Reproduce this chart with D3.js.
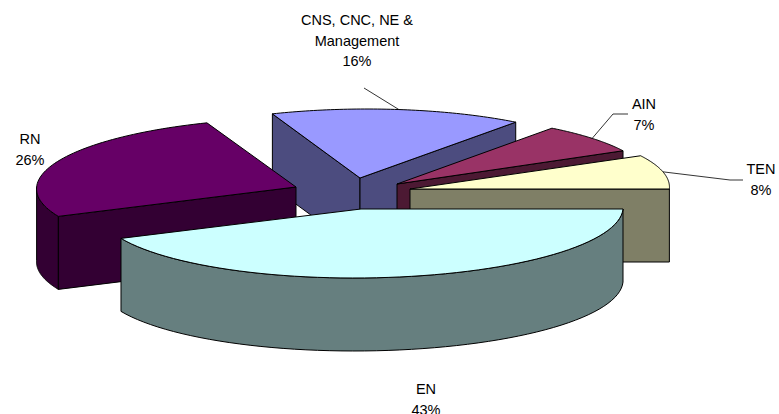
<!DOCTYPE html>
<html>
<head>
<meta charset="utf-8">
<script src="https://cdn.jsdelivr.net/npm/d3@7"></script>
<style>
  body { margin: 0; background: #fff; }
  text { font-family: "Liberation Sans", Arial, sans-serif; font-size: 14.5px; fill: #000; text-anchor: middle; }
</style>
</head>
<body>
<svg id="chart"></svg>
<script>
// data, clockwise from 3 o'clock
const categories = ["EN", "RN", "CNS, CNC, NE & Management", "AIN", "TEN"];
const shares = [43, 26, 16, 7, 8];

const topColors = ["#CCFFFF", "#660066", "#9999FF", "#993366", "#FFFFCC"];
const sideColors = ["#667F7F", "#330033", "#4C4C7F", "#4C1933", "#7F7F66"];

// where each exploded slice has its tip, and how much perspective shrinks it
const tipX = [361, 296, 360, 397, 410];
const tipY = [209, 187, 178, 184, 189];
const sliceScale = [1, 0.99, 0.975, 0.97, 0.99];

// label lines, and where the leader line goes (null = no leader), label end first
const labelLines = [["EN"], ["RN"], ["CNS, CNC, NE &", "Management"], ["AIN"], ["TEN"]];
const labelX = [426, 30, 357, 644, 761];
const labelY = [394, 144, 25, 109, 174];
const leaderEnds = [null, null, [[364, 88]], [[628, 114], [613, 114]], [[743, 180], [730, 180]]];

const width = 779, height = 414;
const rx = 262, ry = 69, depth = 73, shear = -0.1;
// back to front
const drawOrder = [2, 1, 3, 4, 0];

const svg = d3.select("#chart")
  .attr("width", width)
  .attr("height", height)
  .style("display", "block");

const slices = d3.pie().sort(null)
  .startAngle(Math.PI / 2)
  .endAngle(Math.PI / 2 + 2 * Math.PI)(shares);

const project = (i, t, dz = 0) => [
  tipX[i] + rx * sliceScale[i] * Math.cos(t) + shear * ry * Math.sin(t),
  tipY[i] + ry * Math.sin(t) + dz
];

const arcPoints = (i, t0, t1, dz = 0) =>
  d3.range(0, 61).map(k => project(i, t0 + (t1 - t0) * k / 60, dz));

const line = d3.line();
const poly = pts => line(pts) + "Z";

const drawFace = (g, pts, fill) => {
  g.append("path")
    .attr("d", poly(pts))
    .attr("fill", fill)
    .attr("stroke", "#000")
    .attr("stroke-width", 1)
    .attr("stroke-linejoin", "round");
};

drawOrder.forEach(i => {
  const g = svg.append("g");
  const t0 = slices[i].startAngle - Math.PI / 2;
  const t1 = slices[i].endAngle - Math.PI / 2;
  const tip = [tipX[i], tipY[i]];
  const mid = project(i, (t0 + t1) / 2);

  // outer wall, only the part that faces the viewer
  const from = Math.max(t0, 0), to = Math.min(t1, Math.PI);
  if (to > from) {
    drawFace(g, [...arcPoints(i, from, to), ...arcPoints(i, to, from, depth)], sideColors[i]);
  }

  // radial walls, skipped when they face away
  [t0, t1].forEach(t => {
    const end = project(i, t);
    let ex = end[0] - tip[0], ey = end[1] - tip[1];
    if (ex < 0) { ex = -ex; ey = -ey; }
    const cross = ex * (mid[1] - tip[1]) - ey * (mid[0] - tip[0]);
    if (cross < 0) {
      drawFace(g, [tip, end, [end[0], end[1] + depth], [tip[0], tip[1] + depth]], sideColors[i]);
    }
  });

  drawFace(g, [tip, ...arcPoints(i, t0, t1)], topColors[i]);

  // leader line from the middle of the outer edge
  if (leaderEnds[i]) {
    g.append("path")
      .attr("d", line([mid, ...leaderEnds[i].slice().reverse()]))
      .attr("fill", "none")
      .attr("stroke", "#000")
      .attr("stroke-width", 0.8);
  }
});

categories.forEach((c, i) => {
  const lines = [...labelLines[i], shares[i] + "%"];
  const text = svg.append("text").attr("x", labelX[i]).attr("y", labelY[i]);
  lines.forEach((l, k) => {
    text.append("tspan")
      .attr("x", labelX[i])
      .attr("dy", k ? 20.5 : 0)
      .text(l);
  });
});
</script>
</body>
</html>
